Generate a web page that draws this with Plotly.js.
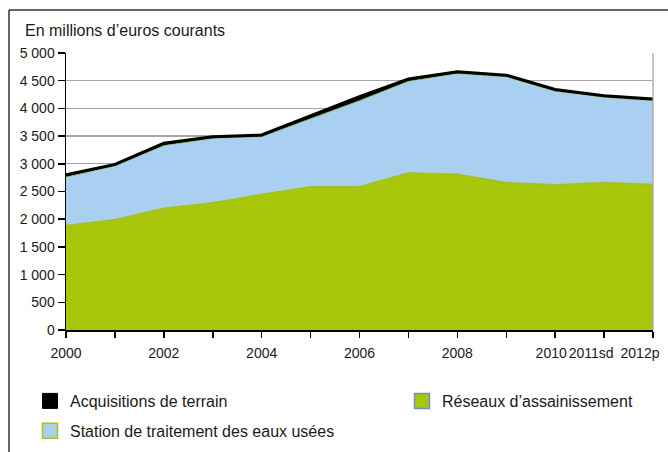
<!DOCTYPE html>
<html>
<head>
<meta charset="utf-8">
<script src="https://cdn.plot.ly/plotly-3.0.1.min.js"></script>
<style>
  html, body { margin: 0; padding: 0; background: #fff; }
  #chart { width: 668px; height: 452px; }
</style>
</head>
<body>
<div id="chart"></div>
<script>
// ---- Data (millions d'euros courants) ----
const years = [2000, 2001, 2002, 2003, 2004, 2005, 2006, 2007, 2008, 2009, 2010, 2011, 2012];
const reseaux = [1890, 1995, 2200, 2300, 2450, 2590, 2590, 2840, 2815, 2665, 2625, 2665, 2630];
const station = [870, 965, 1130, 1160, 1040, 1230, 1550, 1650, 1815, 1905, 1685, 1535, 1510];
const acquisitions = [40, 30, 40, 30, 30, 40, 70, 40, 30, 30, 30, 30, 30];

const labelYears = [2000, 2002, 2004, 2006, 2008, 2010, 2011, 2012];
const tickLabels = ['2000', '2002', '2004', '2006', '2008', '2010', '2011sd', '2012p'];

const yTicks = [0, 500, 1000, 1500, 2000, 2500, 3000, 3500, 4000, 4500, 5000];

const names = {
  acq: 'Acquisitions de terrain',
  res: 'Réseaux d’assainissement',
  sta: 'Station de traitement des eaux usées'
};
const colors = { green: '#a8c70a', blue: '#aad0f1', black: '#000000', edgeBlue: '#6f8fd4' };

// ---- Layout geometry ----
const W = 668, H = 452;
const M = { l: 66, r: 15, t: 53, b: 122, autoexpand: false };
const plotW = W - M.l - M.r, plotH = H - M.t - M.b;
const pxPerYear = plotW / (years[years.length - 1] - years[0]);
const labelShiftPx = [0, 0, 0, 0, 0, -4, -13, -13];
const labelPos = labelYears.map((y, i) => y + labelShiftPx[i] / pxPerYear);
const px2x = px => (px - M.l) / plotW;
const py2y = py => (H - M.b - py) / plotH;

const FONT = 'Liberation Sans, Arial, sans-serif';

const traces = [
  { x: years, y: reseaux, name: names.res, stackgroup: 'one', mode: 'lines',
    line: { color: '#8fa85a', width: 0.8 }, fillcolor: colors.green, showlegend: false },
  { x: years, y: station, name: names.sta, stackgroup: 'one', mode: 'lines',
    line: { color: '#9fbf2a', width: 0.8 }, fillcolor: colors.blue, showlegend: false },
  { x: years, y: acquisitions, name: names.acq, stackgroup: 'one', mode: 'lines',
    line: { color: colors.black, width: 3 }, fillcolor: colors.black, showlegend: false },
  // legend entries
  { x: [null], y: [null], xaxis: 'x2', name: names.acq, mode: 'markers', legend: 'legend', legendgroup: 'a',
    marker: { symbol: 'square', size: 15, color: colors.black, line: { color: '#000', width: 1 } } },
  { x: [null], y: [null], xaxis: 'x2', name: names.sta, mode: 'markers', legend: 'legend', legendgroup: 'b',
    marker: { symbol: 'square', size: 15, color: colors.blue, line: { color: colors.green, width: 1.5 } } },
  { x: [null], y: [null], xaxis: 'x2', name: names.res, mode: 'markers', legend: 'legend2', legendgroup: 'c',
    marker: { symbol: 'square', size: 15, color: colors.green, line: { color: colors.edgeBlue, width: 1.5 } } }
];

const xr = [years[0], years[years.length - 1]];

const layout = {
  width: W, height: H,
  margin: M,
  paper_bgcolor: '#ffffff', plot_bgcolor: '#ffffff',
  separators: ', ',
  font: { family: FONT, size: 14, color: '#1a1a1a' },
  title: {
    text: 'En millions d’euros courants',
    font: { family: FONT, size: 16, color: '#1a1a1a' },
    x: 25 / W, xanchor: 'left', xref: 'container',
    y: 1 - 30 / H, yanchor: 'middle', yref: 'container'
  },
  xaxis: {
    range: xr, tickmode: 'array', tickvals: years, ticktext: years.map(() => ''),
    ticks: 'outside', ticklen: 6, tickwidth: 1.5, tickcolor: '#000',
    showline: true, linecolor: '#000', linewidth: 1.5, showgrid: false, zeroline: false,
    automargin: false, fixedrange: true
  },
  xaxis2: {
    overlaying: 'x', side: 'bottom', range: xr, tickmode: 'array',
    tickvals: labelPos, ticktext: tickLabels, ticks: 'outside', ticklen: 10, tickcolor: 'rgba(0,0,0,0)',
    tickangle: 0, showline: false, showgrid: false, zeroline: false, automargin: false,
    tickfont: { family: FONT, size: 14, color: '#1a1a1a' }, fixedrange: true
  },
  yaxis: {
    range: [0, 5000], tickmode: 'array', tickvals: yTicks, tickformat: ',d',
    ticks: 'outside', ticklen: 7, tickwidth: 1.5, tickcolor: '#000',
    showline: true, linecolor: '#000', linewidth: 1.5, automargin: false,
    showgrid: true, gridcolor: '#a6a6a6', gridwidth: 1.3, zeroline: false,
    tickfont: { family: FONT, size: 14, color: '#1a1a1a' }, fixedrange: true
  },
  legend: {
    x: px2x(30), xanchor: 'left', y: py2y(384), yanchor: 'top',
    orientation: 'v', tracegroupgap: 6, bgcolor: 'rgba(0,0,0,0)',
    font: { family: FONT, size: 16, color: '#1a1a1a' }
  },
  legend2: {
    x: px2x(402), xanchor: 'left', y: py2y(384), yanchor: 'top',
    orientation: 'v', bgcolor: 'rgba(0,0,0,0)',
    font: { family: FONT, size: 16, color: '#1a1a1a' }
  },
  shapes: [
    { type: 'line', xref: 'paper', yref: 'paper', x0: 1, x1: 1, y0: 0, y1: 1,
      line: { color: '#a6a6a6', width: 1.3 } },
    { type: 'line', xref: 'paper', yref: 'paper', x0: px2x(9), x1: px2x(9), y0: py2y(H + 2), y1: py2y(10),
      line: { color: '#333', width: 1.5 } },
    { type: 'line', xref: 'paper', yref: 'paper', x0: px2x(9), x1: px2x(W + 2), y0: py2y(10), y1: py2y(10),
      line: { color: '#333', width: 1.5 } }
  ],
  showlegend: true,
  hovermode: false
};

Plotly.newPlot('chart', traces, layout, { displayModeBar: false, staticPlot: true });
</script>
</body>
</html>
